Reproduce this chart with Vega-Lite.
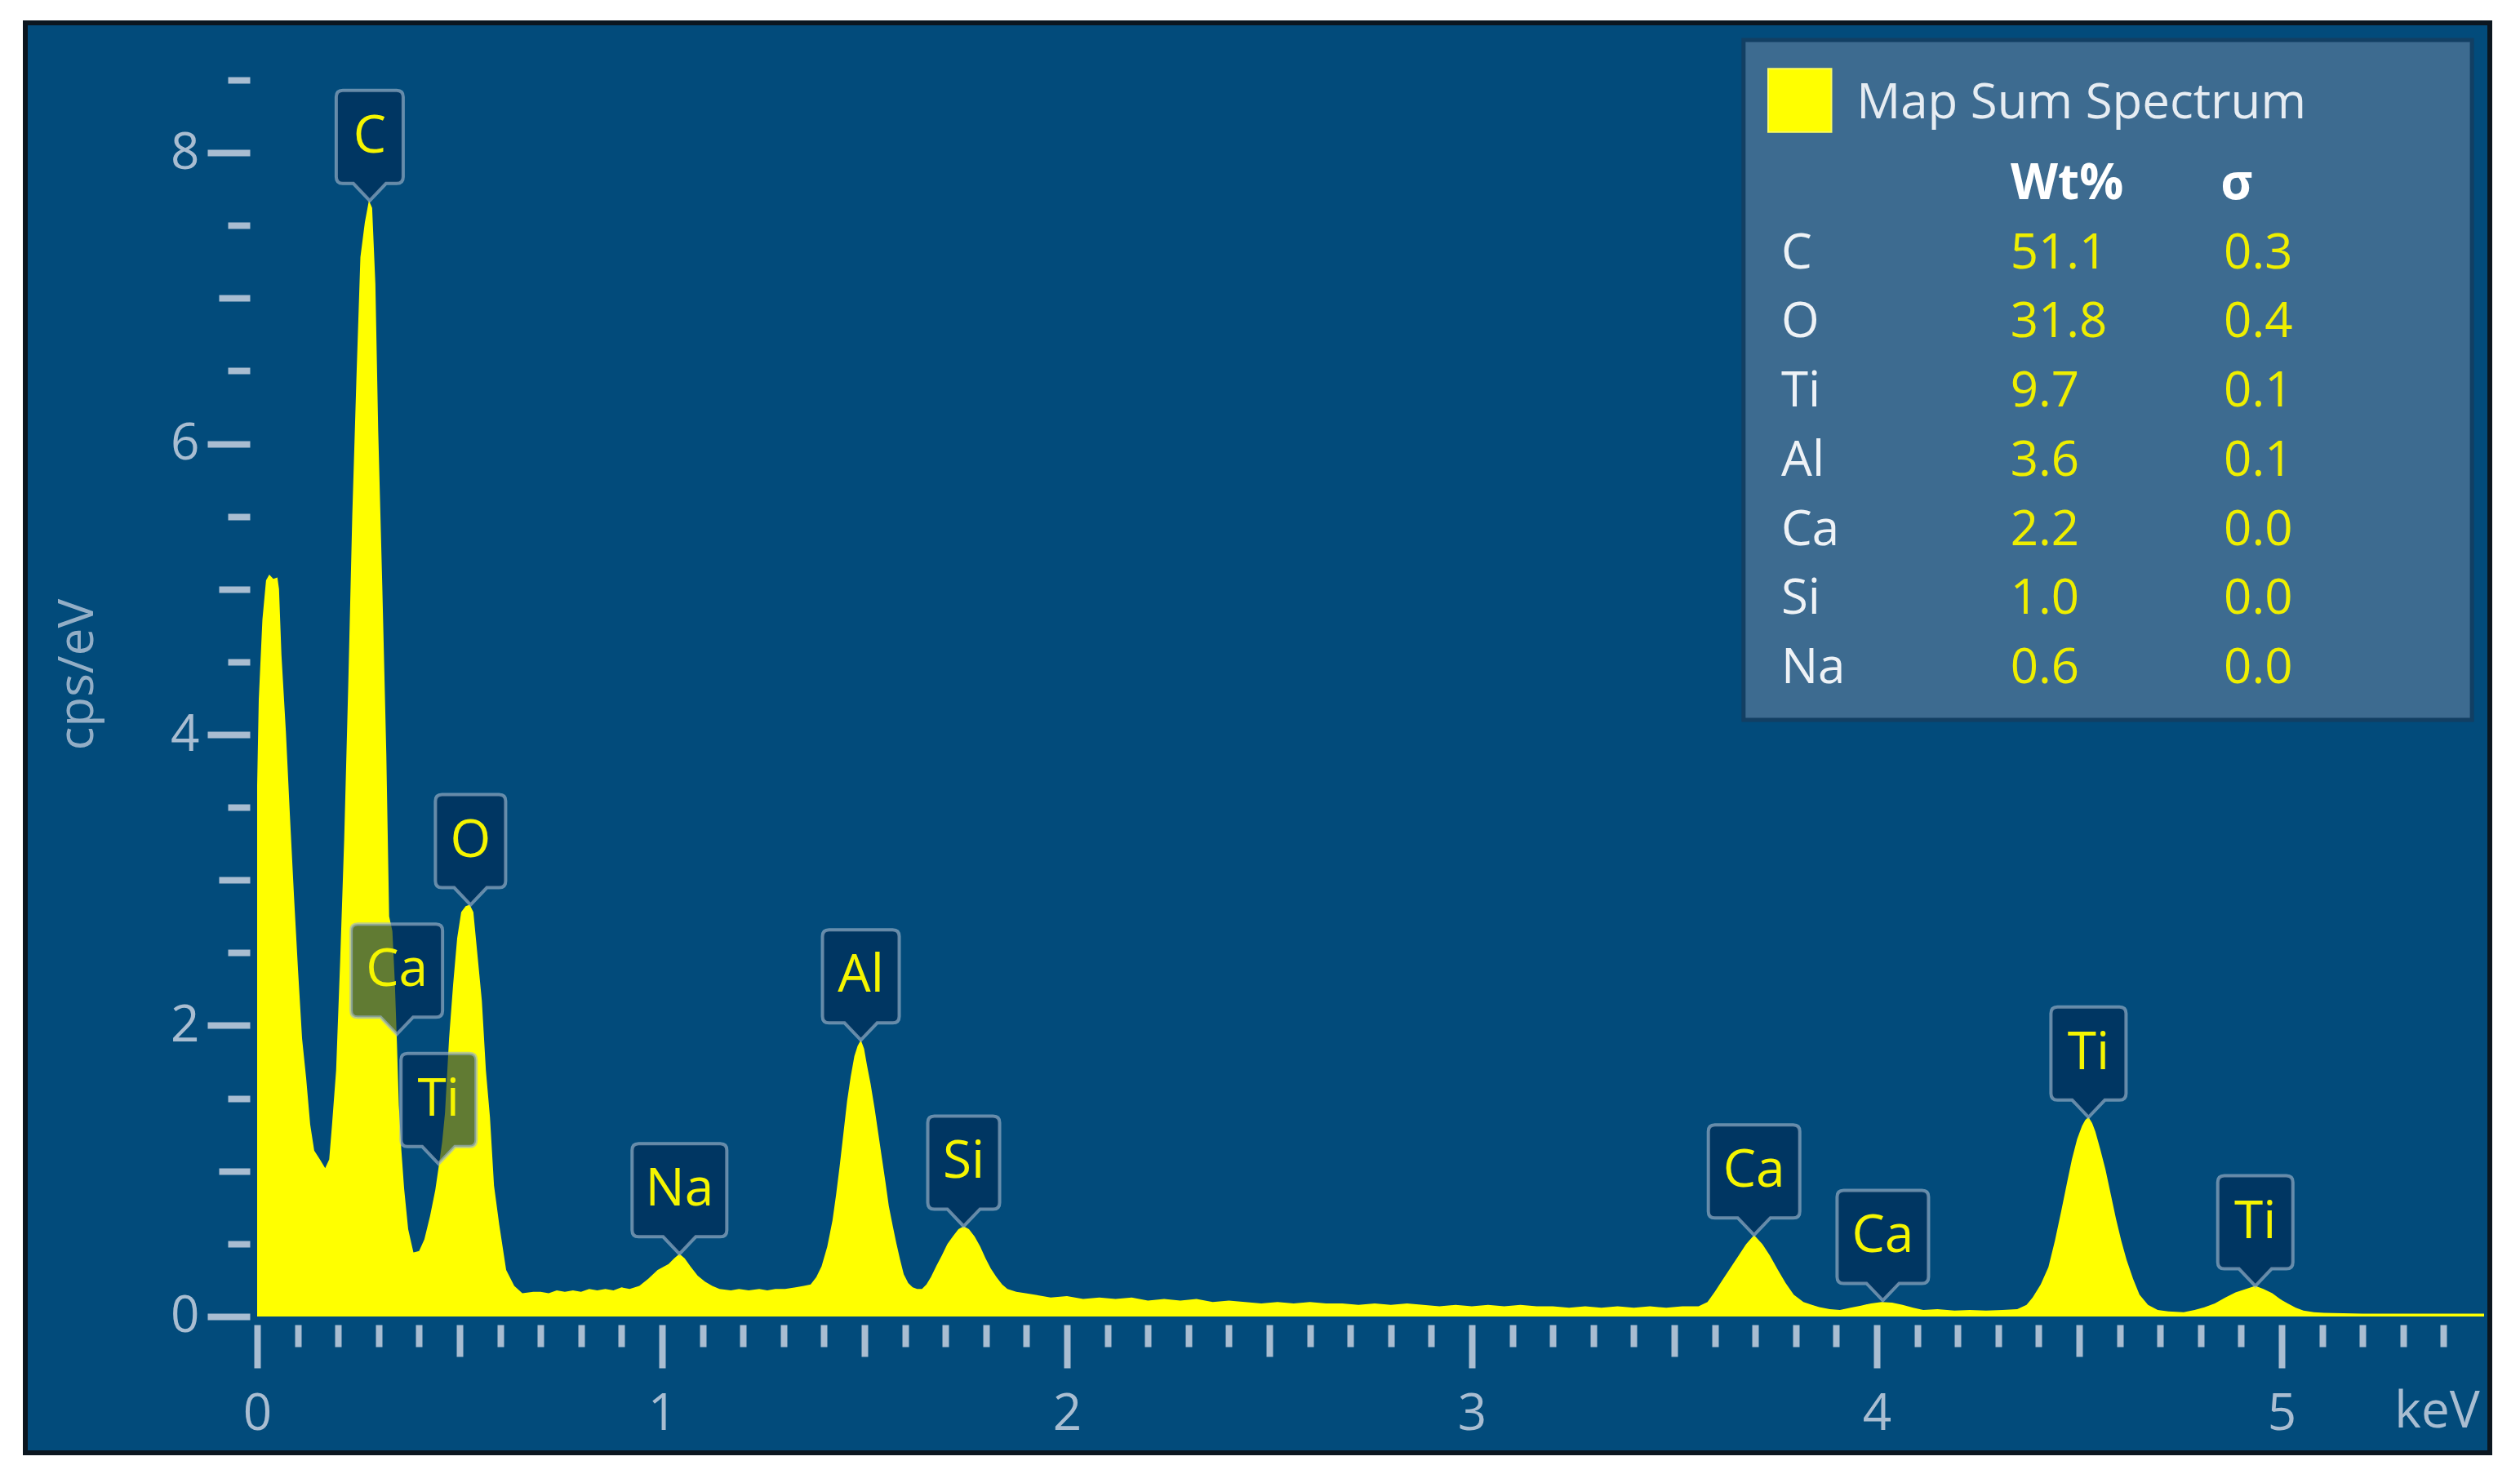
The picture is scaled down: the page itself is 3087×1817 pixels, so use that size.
{
  "$schema": "https://vega.github.io/schema/vega-lite/v6.json",
  "width": 3019,
  "height": 1752,
  "autosize": {"type": "none"},
  "padding": {"left": 31, "top": 28, "right": 37, "bottom": 37},
  "background": "#ffffff",
  "config": {
    "view": {"fill": "#024b7b", "stroke": "#0b1620", "strokeWidth": 6},
    "font": "Open Sans",
    "axis": {"labelFont": "Open Sans", "titleFont": "Open Sans", "labelColor": "#a9bdd1", "titleColor": "#93aec6", "tickColor": "#a9bdd1", "grid": false, "domain": false}
  },
  "datasets": {
    "spectrum": [
      {"keV": 0.000, "cps": 3.65}, {"keV": 0.004, "cps": 4.24}, {"keV": 0.013, "cps": 4.79}, {"keV": 0.022, "cps": 5.06},
      {"keV": 0.030, "cps": 5.10}, {"keV": 0.040, "cps": 5.07}, {"keV": 0.050, "cps": 5.08}, {"keV": 0.054, "cps": 5.00},
      {"keV": 0.060, "cps": 4.55}, {"keV": 0.071, "cps": 4.02}, {"keV": 0.081, "cps": 3.44}, {"keV": 0.091, "cps": 2.89},
      {"keV": 0.101, "cps": 2.38}, {"keV": 0.111, "cps": 1.91}, {"keV": 0.121, "cps": 1.64}, {"keV": 0.131, "cps": 1.32},
      {"keV": 0.141, "cps": 1.14}, {"keV": 0.155, "cps": 1.08}, {"keV": 0.168, "cps": 1.02}, {"keV": 0.178, "cps": 1.08},
      {"keV": 0.185, "cps": 1.32}, {"keV": 0.195, "cps": 1.69}, {"keV": 0.205, "cps": 2.44}, {"keV": 0.215, "cps": 3.28},
      {"keV": 0.225, "cps": 4.34}, {"keV": 0.235, "cps": 5.51}, {"keV": 0.245, "cps": 6.43}, {"keV": 0.255, "cps": 7.28},
      {"keV": 0.266, "cps": 7.52}, {"keV": 0.276, "cps": 7.67}, {"keV": 0.284, "cps": 7.62}, {"keV": 0.292, "cps": 7.10},
      {"keV": 0.299, "cps": 6.09}, {"keV": 0.309, "cps": 5.03}, {"keV": 0.319, "cps": 3.87}, {"keV": 0.326, "cps": 2.75},
      {"keV": 0.334, "cps": 2.65}, {"keV": 0.340, "cps": 2.30}, {"keV": 0.345, "cps": 1.90}, {"keV": 0.350, "cps": 1.45},
      {"keV": 0.356, "cps": 1.15}, {"keV": 0.363, "cps": 0.88}, {"keV": 0.373, "cps": 0.60}, {"keV": 0.386, "cps": 0.44},
      {"keV": 0.400, "cps": 0.45}, {"keV": 0.413, "cps": 0.53}, {"keV": 0.427, "cps": 0.69}, {"keV": 0.440, "cps": 0.87},
      {"keV": 0.450, "cps": 1.06}, {"keV": 0.457, "cps": 1.20}, {"keV": 0.464, "cps": 1.40}, {"keV": 0.474, "cps": 1.91},
      {"keV": 0.484, "cps": 2.28}, {"keV": 0.494, "cps": 2.60}, {"keV": 0.504, "cps": 2.78}, {"keV": 0.515, "cps": 2.82},
      {"keV": 0.525, "cps": 2.83}, {"keV": 0.534, "cps": 2.78}, {"keV": 0.544, "cps": 2.49}, {"keV": 0.555, "cps": 2.17},
      {"keV": 0.565, "cps": 1.69}, {"keV": 0.575, "cps": 1.37}, {"keV": 0.585, "cps": 0.90}, {"keV": 0.598, "cps": 0.63},
      {"keV": 0.615, "cps": 0.32}, {"keV": 0.635, "cps": 0.21}, {"keV": 0.655, "cps": 0.16}, {"keV": 0.682, "cps": 0.17},
      {"keV": 0.70, "cps": 0.17}, {"keV": 0.72, "cps": 0.16}, {"keV": 0.74, "cps": 0.18}, {"keV": 0.76, "cps": 0.17},
      {"keV": 0.78, "cps": 0.18}, {"keV": 0.80, "cps": 0.17}, {"keV": 0.82, "cps": 0.19}, {"keV": 0.84, "cps": 0.18},
      {"keV": 0.86, "cps": 0.19}, {"keV": 0.88, "cps": 0.18}, {"keV": 0.90, "cps": 0.20}, {"keV": 0.92, "cps": 0.19},
      {"keV": 0.944, "cps": 0.21}, {"keV": 0.966, "cps": 0.26}, {"keV": 0.989, "cps": 0.32}, {"keV": 1.016, "cps": 0.36},
      {"keV": 1.030, "cps": 0.40}, {"keV": 1.043, "cps": 0.43}, {"keV": 1.056, "cps": 0.40}, {"keV": 1.070, "cps": 0.345},
      {"keV": 1.088, "cps": 0.28}, {"keV": 1.106, "cps": 0.24}, {"keV": 1.124, "cps": 0.21}, {"keV": 1.142, "cps": 0.19},
      {"keV": 1.17, "cps": 0.18}, {"keV": 1.19, "cps": 0.19}, {"keV": 1.214, "cps": 0.18}, {"keV": 1.24, "cps": 0.19},
      {"keV": 1.26, "cps": 0.18}, {"keV": 1.28, "cps": 0.19}, {"keV": 1.304, "cps": 0.19}, {"keV": 1.33, "cps": 0.20},
      {"keV": 1.350, "cps": 0.21}, {"keV": 1.367, "cps": 0.22}, {"keV": 1.381, "cps": 0.27}, {"keV": 1.394, "cps": 0.345},
      {"keV": 1.408, "cps": 0.48}, {"keV": 1.421, "cps": 0.66}, {"keV": 1.430, "cps": 0.84}, {"keV": 1.439, "cps": 1.04},
      {"keV": 1.448, "cps": 1.26}, {"keV": 1.457, "cps": 1.48}, {"keV": 1.466, "cps": 1.65}, {"keV": 1.475, "cps": 1.79},
      {"keV": 1.483, "cps": 1.86}, {"keV": 1.491, "cps": 1.90}, {"keV": 1.499, "cps": 1.84}, {"keV": 1.506, "cps": 1.73},
      {"keV": 1.515, "cps": 1.60}, {"keV": 1.525, "cps": 1.43}, {"keV": 1.534, "cps": 1.26}, {"keV": 1.543, "cps": 1.09},
      {"keV": 1.552, "cps": 0.92}, {"keV": 1.560, "cps": 0.76}, {"keV": 1.570, "cps": 0.62}, {"keV": 1.579, "cps": 0.50},
      {"keV": 1.588, "cps": 0.39}, {"keV": 1.597, "cps": 0.29}, {"keV": 1.608, "cps": 0.23}, {"keV": 1.619, "cps": 0.20},
      {"keV": 1.630, "cps": 0.19}, {"keV": 1.642, "cps": 0.19}, {"keV": 1.653, "cps": 0.22}, {"keV": 1.664, "cps": 0.27},
      {"keV": 1.678, "cps": 0.35}, {"keV": 1.691, "cps": 0.42}, {"keV": 1.705, "cps": 0.50}, {"keV": 1.718, "cps": 0.55},
      {"keV": 1.732, "cps": 0.60}, {"keV": 1.745, "cps": 0.62}, {"keV": 1.758, "cps": 0.60}, {"keV": 1.772, "cps": 0.55},
      {"keV": 1.786, "cps": 0.48}, {"keV": 1.799, "cps": 0.40}, {"keV": 1.812, "cps": 0.33}, {"keV": 1.826, "cps": 0.27},
      {"keV": 1.840, "cps": 0.22}, {"keV": 1.853, "cps": 0.19}, {"keV": 1.875, "cps": 0.17}, {"keV": 1.898, "cps": 0.16},
      {"keV": 1.92, "cps": 0.15}, {"keV": 1.96, "cps": 0.13}, {"keV": 2.00, "cps": 0.14}, {"keV": 2.04, "cps": 0.12},
      {"keV": 2.08, "cps": 0.13}, {"keV": 2.12, "cps": 0.12}, {"keV": 2.16, "cps": 0.13}, {"keV": 2.20, "cps": 0.11},
      {"keV": 2.24, "cps": 0.12}, {"keV": 2.28, "cps": 0.11}, {"keV": 2.32, "cps": 0.12}, {"keV": 2.36, "cps": 0.10},
      {"keV": 2.40, "cps": 0.11}, {"keV": 2.44, "cps": 0.10}, {"keV": 2.48, "cps": 0.09}, {"keV": 2.52, "cps": 0.10},
      {"keV": 2.56, "cps": 0.09}, {"keV": 2.60, "cps": 0.10}, {"keV": 2.64, "cps": 0.09}, {"keV": 2.68, "cps": 0.09},
      {"keV": 2.72, "cps": 0.08}, {"keV": 2.76, "cps": 0.09}, {"keV": 2.80, "cps": 0.08}, {"keV": 2.84, "cps": 0.09},
      {"keV": 2.88, "cps": 0.08}, {"keV": 2.92, "cps": 0.07}, {"keV": 2.96, "cps": 0.08}, {"keV": 3.00, "cps": 0.07},
      {"keV": 3.04, "cps": 0.08}, {"keV": 3.08, "cps": 0.07}, {"keV": 3.12, "cps": 0.08}, {"keV": 3.16, "cps": 0.07},
      {"keV": 3.20, "cps": 0.07}, {"keV": 3.24, "cps": 0.06}, {"keV": 3.28, "cps": 0.07}, {"keV": 3.32, "cps": 0.06},
      {"keV": 3.36, "cps": 0.07}, {"keV": 3.40, "cps": 0.06}, {"keV": 3.44, "cps": 0.07}, {"keV": 3.48, "cps": 0.06},
      {"keV": 3.52, "cps": 0.07}, {"keV": 3.56, "cps": 0.07}, {"keV": 3.582, "cps": 0.10}, {"keV": 3.600, "cps": 0.17},
      {"keV": 3.621, "cps": 0.26}, {"keV": 3.640, "cps": 0.34}, {"keV": 3.659, "cps": 0.42}, {"keV": 3.678, "cps": 0.50},
      {"keV": 3.697, "cps": 0.56}, {"keV": 3.717, "cps": 0.50}, {"keV": 3.736, "cps": 0.42}, {"keV": 3.756, "cps": 0.32},
      {"keV": 3.775, "cps": 0.23}, {"keV": 3.795, "cps": 0.15}, {"keV": 3.819, "cps": 0.10}, {"keV": 3.840, "cps": 0.08},
      {"keV": 3.858, "cps": 0.065}, {"keV": 3.884, "cps": 0.05}, {"keV": 3.909, "cps": 0.045}, {"keV": 3.935, "cps": 0.06},
      {"keV": 3.961, "cps": 0.075}, {"keV": 3.986, "cps": 0.09}, {"keV": 4.012, "cps": 0.10}, {"keV": 4.038, "cps": 0.095},
      {"keV": 4.064, "cps": 0.08}, {"keV": 4.090, "cps": 0.06}, {"keV": 4.115, "cps": 0.045}, {"keV": 4.150, "cps": 0.05},
      {"keV": 4.192, "cps": 0.04}, {"keV": 4.230, "cps": 0.045}, {"keV": 4.270, "cps": 0.04}, {"keV": 4.310, "cps": 0.045},
      {"keV": 4.347, "cps": 0.05}, {"keV": 4.370, "cps": 0.08}, {"keV": 4.385, "cps": 0.13}, {"keV": 4.405, "cps": 0.22},
      {"keV": 4.424, "cps": 0.34}, {"keV": 4.440, "cps": 0.52}, {"keV": 4.456, "cps": 0.73}, {"keV": 4.470, "cps": 0.92},
      {"keV": 4.482, "cps": 1.08}, {"keV": 4.495, "cps": 1.22}, {"keV": 4.507, "cps": 1.31}, {"keV": 4.515, "cps": 1.35},
      {"keV": 4.523, "cps": 1.37}, {"keV": 4.532, "cps": 1.33}, {"keV": 4.540, "cps": 1.27}, {"keV": 4.552, "cps": 1.15},
      {"keV": 4.565, "cps": 1.01}, {"keV": 4.578, "cps": 0.84}, {"keV": 4.591, "cps": 0.67}, {"keV": 4.604, "cps": 0.52},
      {"keV": 4.617, "cps": 0.39}, {"keV": 4.633, "cps": 0.26}, {"keV": 4.649, "cps": 0.15}, {"keV": 4.670, "cps": 0.08},
      {"keV": 4.694, "cps": 0.045}, {"keV": 4.720, "cps": 0.035}, {"keV": 4.758, "cps": 0.03}, {"keV": 4.785, "cps": 0.045},
      {"keV": 4.809, "cps": 0.063}, {"keV": 4.835, "cps": 0.09}, {"keV": 4.861, "cps": 0.13}, {"keV": 4.886, "cps": 0.165},
      {"keV": 4.912, "cps": 0.19}, {"keV": 4.935, "cps": 0.21}, {"keV": 4.955, "cps": 0.19}, {"keV": 4.977, "cps": 0.16},
      {"keV": 4.996, "cps": 0.12}, {"keV": 5.015, "cps": 0.09}, {"keV": 5.035, "cps": 0.06}, {"keV": 5.054, "cps": 0.04},
      {"keV": 5.080, "cps": 0.03}, {"keV": 5.105, "cps": 0.025}, {"keV": 5.20, "cps": 0.02}, {"keV": 5.30, "cps": 0.02},
      {"keV": 5.40, "cps": 0.02}, {"keV": 5.50, "cps": 0.02}
    ],
    "peaks": [
      {"label": "C", "keV": 0.278, "cps": 7.67},
      {"label": "Ca", "keV": 0.345, "cps": 1.94},
      {"label": "Ti", "keV": 0.448, "cps": 1.05},
      {"label": "O", "keV": 0.527, "cps": 2.83},
      {"label": "Na", "keV": 1.043, "cps": 0.43},
      {"label": "Al", "keV": 1.491, "cps": 1.90},
      {"label": "Si", "keV": 1.745, "cps": 0.62},
      {"label": "Ca", "keV": 3.697, "cps": 0.56},
      {"label": "Ca", "keV": 4.015, "cps": 0.11},
      {"label": "Ti", "keV": 4.523, "cps": 1.37},
      {"label": "Ti", "keV": 4.935, "cps": 0.21}
    ],
    "composition": [
      {"element": "C", "wt": 51.1, "sigma": 0.3},
      {"element": "O", "wt": 31.8, "sigma": 0.4},
      {"element": "Ti", "wt": 9.7, "sigma": 0.1},
      {"element": "Al", "wt": 3.6, "sigma": 0.1},
      {"element": "Ca", "wt": 2.2, "sigma": 0.0},
      {"element": "Si", "wt": 1.0, "sigma": 0.0},
      {"element": "Na", "wt": 0.6, "sigma": 0.0}
    ]
  },
  "layer": [
    {
      "layer": [
        {
          "data": {"name": "spectrum"},
          "mark": {"type": "area", "color": "#ffff00", "interpolate": "linear", "opacity": 1},
          "encoding": {
            "x": {
              "field": "keV", "type": "quantitative",
              "scale": {"domain": [-0.57258, 5.51411], "nice": false, "zero": false},
              "axis": {
                "orient": "bottom", "offset": -157,
                "values": [0, 0.1, 0.2, 0.3, 0.4, 0.5, 0.6, 0.7, 0.8, 0.9, 1, 1.1, 1.2, 1.3, 1.4, 1.5, 1.6, 1.7, 1.8, 1.9, 2, 2.1, 2.2, 2.3, 2.4, 2.5, 2.6, 2.7, 2.8, 2.9, 3, 3.1, 3.2, 3.3, 3.4, 3.5, 3.6, 3.7, 3.8, 3.9, 4, 4.1, 4.2, 4.3, 4.4, 4.5, 4.6, 4.7, 4.8, 4.9, 5, 5.1, 5.2, 5.3, 5.4],
                "tickCount": 100,
                "tickMinStep": 0.05,
                "tickWidth": 8,
                "tickSize": {"condition": [{"test": "round(datum.value*10)%10===0", "value": 53}, {"test": "round(datum.value*10)%5===0", "value": 39}], "value": 27},
                "labelExpr": "round(datum.value*10)%10===0 ? format(datum.value, 'd') : ''",
                "labelFontSize": 62, "labelBaseline": "middle", "labelPadding": 56,
                "labelOverlap": false, "labelFlush": false, "labelBound": false,
                "title": "keV", "titleX": 2954, "titleY": 106, "titleAlign": "center", "titleBaseline": "middle",
                "titleFontSize": 62, "titleFontWeight": "normal", "titleColor": "#a9bdd1", "titleAnchor": null
              }
            },
            "y": {
              "field": "cps", "type": "quantitative",
              "scale": {"domain": [-0.93689, 8.89201], "nice": false, "zero": false},
              "axis": {
                "orient": "left", "offset": -275,
                "values": [0, 0.5, 1, 1.5, 2, 2.5, 3, 3.5, 4, 4.5, 5, 5.5, 6, 6.5, 7, 7.5, 8, 8.5],
                "tickCount": 100,
                "tickMinStep": 0.05,
                "tickWidth": 8,
                "tickSize": {"condition": [{"test": "datum.value%2===0", "value": 52}, {"test": "datum.value%1===0", "value": 38}], "value": 27},
                "labelExpr": "datum.value%2===0 ? format(datum.value, 'd') : ''",
                "labelFontSize": 62, "labelBaseline": "middle", "labelPadding": 10,
                "labelOverlap": false, "labelFlush": false, "labelBound": false,
                "title": "cps/eV", "titleAngle": 270, "titleX": -211, "titleY": 798, "titleAlign": "center", "titleBaseline": "middle",
                "titleFontSize": 60, "titleFontWeight": "normal", "titleAnchor": null
              }
            },
            "y2": {"datum": 0}
          }
        },
        {
          "data": {"name": "peaks"},
          "mark": {"type": "point", "filled": true, "size": 10000, "opacity": 1, "fill": "#002a52", "fillOpacity": 0.62, "stroke": "#9db4ca", "strokeOpacity": 0.65, "strokeWidth": 4},
          "encoding": {
            "x": {"field": "keV", "type": "quantitative"},
            "y": {"field": "cps", "type": "quantitative"},
            "shape": {
              "field": "label", "type": "nominal", "legend": null,
              "scale": {
                "domain": ["C", "O", "Ti", "Al", "Si", "Na", "Ca"],
                "range": [
                  "M0,0L0.4,-0.42L0.66,-0.42Q0.82,-0.42 0.82,-0.58L0.82,-2.54Q0.82,-2.7 0.66,-2.7L-0.66,-2.7Q-0.82,-2.7 -0.82,-2.54L-0.82,-0.58Q-0.82,-0.42 -0.66,-0.42L-0.4,-0.42Z",
                  "M0,0L0.4,-0.42L0.7,-0.42Q0.86,-0.42 0.86,-0.58L0.86,-2.54Q0.86,-2.7 0.7,-2.7L-0.7,-2.7Q-0.86,-2.7 -0.86,-2.54L-0.86,-0.58Q-0.86,-0.42 -0.7,-0.42L-0.4,-0.42Z",
                  "M0,0L0.4,-0.42L0.76,-0.42Q0.92,-0.42 0.92,-0.58L0.92,-2.54Q0.92,-2.7 0.76,-2.7L-0.76,-2.7Q-0.92,-2.7 -0.92,-2.54L-0.92,-0.58Q-0.92,-0.42 -0.76,-0.42L-0.4,-0.42Z",
                  "M0,0L0.4,-0.42L0.78,-0.42Q0.94,-0.42 0.94,-0.58L0.94,-2.54Q0.94,-2.7 0.78,-2.7L-0.78,-2.7Q-0.94,-2.7 -0.94,-2.54L-0.94,-0.58Q-0.94,-0.42 -0.78,-0.42L-0.4,-0.42Z",
                  "M0,0L0.4,-0.42L0.72,-0.42Q0.88,-0.42 0.88,-0.58L0.88,-2.54Q0.88,-2.7 0.72,-2.7L-0.72,-2.7Q-0.88,-2.7 -0.88,-2.54L-0.88,-0.58Q-0.88,-0.42 -0.72,-0.42L-0.4,-0.42Z",
                  "M0,0L0.4,-0.42L1.0,-0.42Q1.16,-0.42 1.16,-0.58L1.16,-2.54Q1.16,-2.7 1.0,-2.7L-1.0,-2.7Q-1.16,-2.7 -1.16,-2.54L-1.16,-0.58Q-1.16,-0.42 -1.0,-0.42L-0.4,-0.42Z",
                  "M0,0L0.4,-0.42L0.96,-0.42Q1.12,-0.42 1.12,-0.58L1.12,-2.54Q1.12,-2.7 0.96,-2.7L-0.96,-2.7Q-1.12,-2.7 -1.12,-2.54L-1.12,-0.58Q-1.12,-0.42 -0.96,-0.42L-0.4,-0.42Z"
                ]
              }
            }
          }
        },
        {
          "data": {"name": "peaks"},
          "mark": {"type": "text", "dy": -78, "fontSize": 64, "color": "#f5f500", "baseline": "middle", "align": "center", "font": "Open Sans"},
          "encoding": {
            "x": {"field": "keV", "type": "quantitative"},
            "y": {"field": "cps", "type": "quantitative"},
            "text": {"field": "label", "type": "nominal"}
          }
        }
      ]
    },
    {
      "data": {"name": "composition"},
      "encoding": {
        "y": {"field": "element", "type": "nominal", "scale": {"type": "point", "domain": ["title", "header", "C", "O", "Ti", "Al", "Ca", "Si", "Na"], "range": [113, 791], "padding": 0}, "axis": null}
      },
      "layer": [
        {
          "transform": [{"filter": "datum.element === 'C'"}],
          "mark": {"type": "rect", "fill": "#3d6b90", "stroke": "#123f63", "strokeWidth": 5, "yOffset": -92, "y2Offset": 63},
          "encoding": {"x": {"datum": 3.671}, "x2": {"datum": 5.470}, "y": {"datum": "title"}, "y2": {"datum": "Na"}}
        },
        {
          "transform": [{"filter": "datum.element === 'C'"}],
          "mark": {"type": "point", "shape": "square", "filled": true, "size": 6000, "opacity": 1, "fill": "#ffff00", "stroke": "#fbfb60", "strokeWidth": 2, "yOffset": -18},
          "encoding": {"x": {"datum": 3.810}, "y": {"datum": "title"}}
        },
        {
          "transform": [{"filter": "datum.element === 'C'"}],
          "mark": {"type": "text", "text": "Map Sum Spectrum", "fontSize": 60, "color": "#e6ecf2", "align": "left", "baseline": "middle", "font": "Open Sans", "dy": -14},
          "encoding": {"x": {"datum": 3.950}, "y": {"datum": "title"}}
        },
        {
          "transform": [{"filter": "datum.element === 'C'"}],
          "mark": {"type": "text", "text": "Wt%", "fontSize": 60, "fontWeight": "bold", "color": "#ffffff", "align": "center", "baseline": "middle", "font": "Open Sans"},
          "encoding": {"x": {"datum": 4.470}, "y": {"datum": "header"}}
        },
        {
          "transform": [{"filter": "datum.element === 'C'"}],
          "mark": {"type": "text", "text": "σ", "fontSize": 60, "fontWeight": "bold", "color": "#ffffff", "align": "center", "baseline": "middle", "font": "Open Sans"},
          "encoding": {"x": {"datum": 4.889}, "y": {"datum": "header"}}
        },
        {
          "mark": {"type": "text", "fontSize": 60, "color": "#eef2f6", "align": "left", "baseline": "middle", "font": "Open Sans"},
          "encoding": {"x": {"datum": 3.764}, "text": {"field": "element", "type": "nominal"}}
        },
        {
          "mark": {"type": "text", "fontSize": 60, "color": "#eeee00", "align": "left", "baseline": "middle", "font": "Open Sans"},
          "encoding": {"x": {"datum": 4.330}, "text": {"field": "wt", "type": "quantitative", "format": ".1f"}}
        },
        {
          "mark": {"type": "text", "fontSize": 60, "color": "#eeee00", "align": "left", "baseline": "middle", "font": "Open Sans"},
          "encoding": {"x": {"datum": 4.857}, "text": {"field": "sigma", "type": "quantitative", "format": ".1f"}}
        }
      ]
    }
  ],
  "resolve": {"scale": {"y": "independent"}}
}
